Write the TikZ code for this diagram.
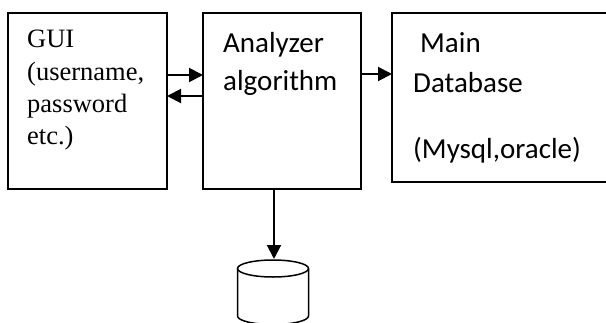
\documentclass[tikz,border=0pt]{standalone}
\usepackage{fontspec}
\setmainfont{Liberation Serif}
\newfontfamily\calfont{Carlito}
\usetikzlibrary{arrows.meta}
\begin{document}
\begin{tikzpicture}[x=1pt,y=-1pt,
  box/.style={draw,line width=2pt,anchor=north west,inner sep=0pt,outer sep=0pt},
  arr/.style={line width=2pt,-{Triangle[length=14pt,width=14pt]}},
  serif/.style={anchor=base west,inner sep=0pt,font=\fontsize{26.5}{26.5}\selectfont},
  cal/.style={anchor=base west,inner sep=0pt,font=\calfont\fontsize{29}{29}\selectfont}]
\useasboundingbox (0,0) rectangle (606,322);
\begin{scope}
\clip (0,0) rectangle (606,322);
\node[box,minimum width=159pt,minimum height=176pt] (gui) at (8,13) {};
\node[box,minimum width=158pt,minimum height=176pt] (ana) at (203,13) {};
\node[box,minimum width=250pt,minimum height=169pt] (main) at (392,13) {};
\node[serif] (t1) at (27,47) {GUI};
\node[serif] (t2) at (27,80) {(username,};
\node[serif] (t3) at (27,112) {password};
\node[serif] (t4) at (27,144) {etc.)};
\node[cal] (a1) at (223,52) {Analyzer};
\node[cal] (a2) at (223,90) {algorithm};
\node[cal] (m1) at (420,52) {Main};
\node[cal] (m2) at (413,92) {Database};
\node[cal] (m3) at (413,158) {(Mysql,oracle)};
\coordinate (y1) at (0,75);
\coordinate (y2) at (0,96);
\coordinate (y3) at (0,74);
\coordinate (xd) at (274,0);
\coordinate (dbtop) at (274,259);
\draw[arr] (gui.east |- y1) -- (ana.west |- y1);
\draw[arr] (ana.west |- y2) -- (gui.east |- y2);
\draw[arr] (ana.east |- y3) -- (main.west |- y3);
\draw[arr] (xd |- ana.south) -- (dbtop);
\draw[line width=1.5pt] (273,268.5) ellipse [x radius=35.5pt, y radius=8.5pt];
\draw[line width=1.5pt] (237.5,268.5) -- (237.5,316) arc[start angle=180,end angle=360,x radius=35.5pt,y radius=8.5pt] -- (308.5,268.5);
\end{scope}
\end{tikzpicture}
\end{document}
